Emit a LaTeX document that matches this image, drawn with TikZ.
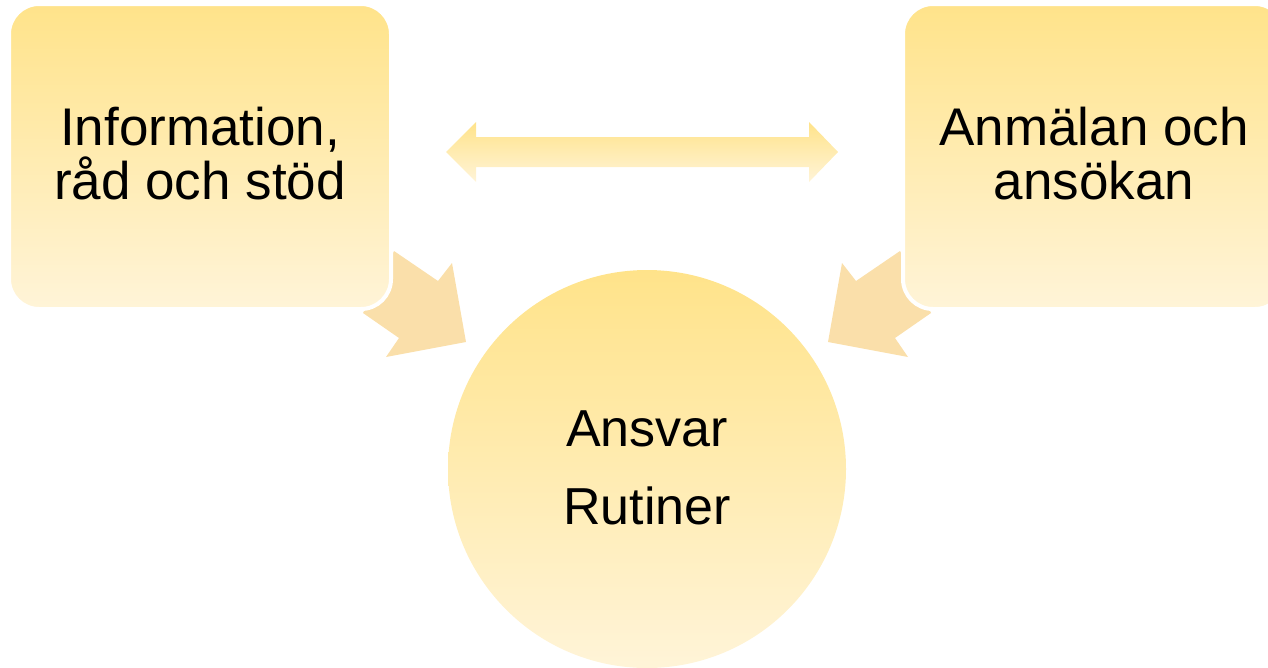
\documentclass[tikz,border=0pt]{standalone}
\usepackage{fontspec}
\setmainfont{Liberation Sans}
\definecolor{ytop}{HTML}{FFE38A}
\definecolor{ybot}{HTML}{FFF4D8}
\definecolor{arrcol}{HTML}{FADFAA}
\begin{document}
\begin{tikzpicture}[x=1pt,y=-1pt,
  box/.style={rectangle, rounded corners=30pt, minimum width=382pt,
    minimum height=305pt, top color=ytop, bottom color=ybot, draw=white,
    line width=4pt, align=center, inner sep=0pt, text depth=6pt,
    font=\fontsize{53}{54}\selectfont},
  hub/.style={circle, minimum size=398pt, inner sep=0pt, top color=ytop,
    bottom color=ybot, align=center, text depth=3pt,
    font=\fontsize{52}{78}\selectfont},
  blockarrow/.style={fill=arrcol, draw=none},
  linkarrow/.style={top color=ytop, bottom color=ybot, draw=none}]
\useasboundingbox (0,0) rectangle (1268,667);
\clip (0,0) rectangle (1268,667);
% bent block arrows (drawn first so boxes overlap them)
\fill[blockarrow] (394,251) -- (438,281) -- (452,263) -- (466,342)
  -- (386,357) -- (399,338) -- (363,313) -- cycle;
\fill[blockarrow] (900,251) -- (856,281) -- (842,263) -- (828,342)
  -- (908,357) -- (895,338) -- (931,313) -- cycle;
% boxes
\node[box] (info) at (200,156.5) {Information,\\råd och stöd};
\node[box] (anm) at (1094,156.5) {Anmälan och\\ansökan};
% double arrow between boxes
\path[linkarrow] (446,152) -- (476,122) -- (476,137) -- (809,137)
  -- (809,122) -- (838,152) -- (809,182) -- (809,167) -- (476,167)
  -- (476,182) -- cycle;
% circle
\node[hub] (ansvar) at (647,469) {Ansvar\\Rutiner};
\end{tikzpicture}
\end{document}
